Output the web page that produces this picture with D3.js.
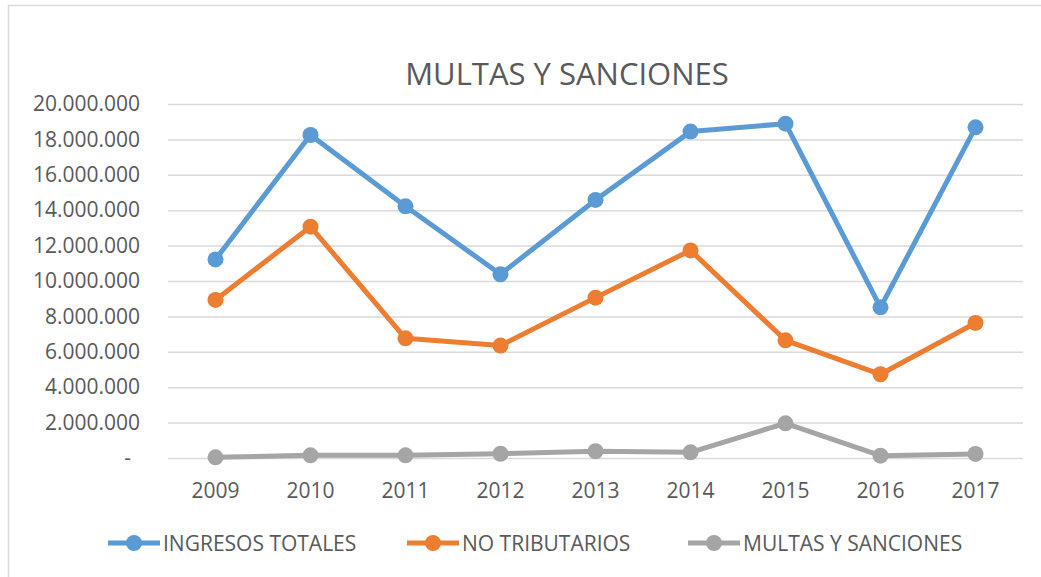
<!DOCTYPE html>
<html>
<head>
<meta charset="utf-8">
<script src="https://cdn.jsdelivr.net/npm/d3@7"></script>
<style>
  body { margin: 0; background: #fff; }
  text { font-family: "Open Sans", sans-serif; fill: #595959; }
</style>
</head>
<body>
<script>
var w = 1041;
var h = 577;

var years = ["2009", "2010", "2011", "2012", "2013", "2014", "2015", "2016", "2017"];
var ingresosTotales = [11220000, 18250000, 14220000, 10380000, 14580000, 18440000, 18890000, 8510000, 18680000];
var noTributarios = [8930000, 13070000, 6760000, 6350000, 9060000, 11730000, 6650000, 4730000, 7630000];
var multasSanciones = [40000, 150000, 150000, 240000, 380000, 320000, 1960000, 130000, 230000];
var seriesNames = ["INGRESOS TOTALES", "NO TRIBUTARIOS", "MULTAS Y SANCIONES"];
var colors = ["#5B9BD5", "#ED7D31", "#A5A5A5"];
var yTicks = [0, 2000000, 4000000, 6000000, 8000000, 10000000, 12000000, 14000000, 16000000, 18000000, 20000000];

var series = [ingresosTotales, noTributarios, multasSanciones];

var esLocale = d3.formatLocale({decimal: ",", thousands: ".", grouping: [3], currency: ["$", ""]});
var fmt = esLocale.format(",.0f");

var plotLeft = 168, plotRight = 1023, plotTop = 104, plotBottom = 458;

var xScale = d3.scaleBand()
    .domain(years)
    .range([plotLeft, plotRight]);

var yScale = d3.scaleLinear()
    .domain([0, 20000000])
    .range([plotBottom, plotTop]);

var svg = d3.select("body")
    .append("svg")
    .attr("width", w)
    .attr("height", h);

// chart border
svg.append("rect")
    .attr("x", 8.5)
    .attr("y", 5.5)
    .attr("width", 1100)
    .attr("height", 700)
    .attr("fill", "none")
    .attr("stroke", "#d9d9d9")
    .attr("stroke-width", 1.5);

// title
svg.append("text")
    .attr("x", 567)
    .attr("y", 85)
    .attr("text-anchor", "middle")
    .style("font-size", "31px")
    .text("MULTAS Y SANCIONES");

// y axis + gridlines
var yAxis = svg.append("g")
    .attr("transform", "translate(" + plotLeft + ",0)")
    .call(d3.axisLeft(yScale)
        .tickValues(yTicks)
        .tickSize(-(plotRight - plotLeft))
        .tickPadding(28)
        .tickFormat(function(d){
            return d == 0 ? "-" : fmt(d);
        }));
yAxis.select(".domain").remove();
yAxis.selectAll("line")
    .attr("stroke", "#d9d9d9")
    .attr("stroke-width", 1.5);
yAxis.selectAll("text")
    .style("font-size", "21px")
    .style("fill", "#595959")
    .style("font-family", "'Open Sans', sans-serif");
yAxis.selectAll(".tick")
    .filter(function(d){ return d == 0; })
    .select("text")
    .attr("x", -37);

// x axis
var xAxis = svg.append("g")
    .attr("transform", "translate(0," + plotBottom + ")")
    .call(d3.axisBottom(xScale).tickSize(0).tickPadding(25));
xAxis.select(".domain").remove();
xAxis.selectAll("text")
    .style("font-size", "21px")
    .style("fill", "#595959")
    .style("font-family", "'Open Sans', sans-serif");

// lines and markers
var line = d3.line()
    .x(function(d, i){ return xScale(years[i]) + xScale.bandwidth() / 2; })
    .y(function(d){ return yScale(d); });

series.forEach(function(values, s){
    svg.append("path")
        .datum(values)
        .attr("d", line)
        .attr("fill", "none")
        .attr("stroke", colors[s])
        .attr("stroke-width", 5)
        .attr("stroke-linejoin", "round");

    svg.selectAll(".pt" + s)
        .data(values)
        .enter()
        .append("circle")
        .attr("cx", function(d, i){ return xScale(years[i]) + xScale.bandwidth() / 2; })
        .attr("cy", function(d){ return yScale(d); })
        .attr("r", 8)
        .attr("fill", colors[s]);
});

// legend
var legendX = [108, 407, 688];
var legendY = 543;

var legend = svg.selectAll(".legend")
    .data(seriesNames)
    .enter()
    .append("g")
    .attr("transform", function(d, i){ return "translate(" + legendX[i] + "," + legendY + ")"; });

legend.append("line")
    .attr("x1", 0)
    .attr("x2", 52)
    .attr("y1", 0)
    .attr("y2", 0)
    .attr("stroke", function(d, i){ return colors[i]; })
    .attr("stroke-width", 5);

legend.append("circle")
    .attr("cx", 26)
    .attr("cy", 0)
    .attr("r", 8)
    .attr("fill", function(d, i){ return colors[i]; });

legend.append("text")
    .attr("x", 55)
    .attr("y", 0)
    .attr("dy", "0.36em")
    .style("font-size", "21px")
    .text(function(d){ return d; });
</script>
</body>
</html>
